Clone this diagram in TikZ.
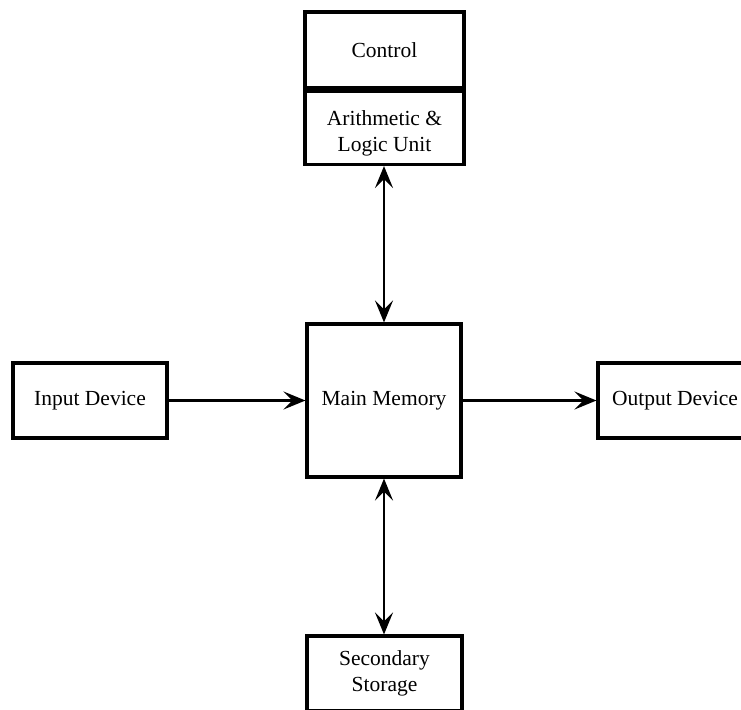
\documentclass[tikz,border=0pt]{standalone}
\usepackage{fontspec}
\setmainfont{Liberation Serif}
\usetikzlibrary{arrows.meta}
\begin{document}
\begin{tikzpicture}[x=1pt,y=-1pt,
  box/.style={draw, line width=3.1pt, rectangle, inner sep=0pt, align=center,
    font=\fontsize{21.5}{26}\selectfont},
  conn/.style={line width=2.6pt, -{Stealth[length=22pt,width=18pt,inset=9pt]}},
  bconn/.style={line width=2.6pt, {Stealth[length=22pt,width=18pt,inset=9pt]}-{Stealth[length=22pt,width=18pt,inset=9pt]}}]
\useasboundingbox (0,0) rectangle (741,709);
\node[box, minimum width=159pt, minimum height=76pt] (ctrl) at (384.5,50) {Control};
\node[box, minimum width=159pt, minimum height=73pt] (alu) at (384.5,128) {\rule{0pt}{25pt}Arithmetic \&\\Logic Unit};
\node[box, minimum width=154pt, minimum height=153pt] (mem) at (384,400.5) {Main Memory};
\node[box, minimum width=154pt, minimum height=75pt] (in) at (90,400.5) {Input Device};
\node[box, minimum width=154pt, minimum height=75pt] (out) at (675,400.5) {Output Device};
\node[box, minimum width=155pt, minimum height=75pt] (sec) at (384.5,673.5) {Secondary\\Storage};
\draw[bconn] (alu.south -| mem.north) -- (mem.north);
\draw[bconn] (mem.south) -- (sec.north -| mem.south);
\draw[conn] (in.east) -- (mem.west);
\draw[conn] (mem.east) -- (out.west);
\end{tikzpicture}
\end{document}
